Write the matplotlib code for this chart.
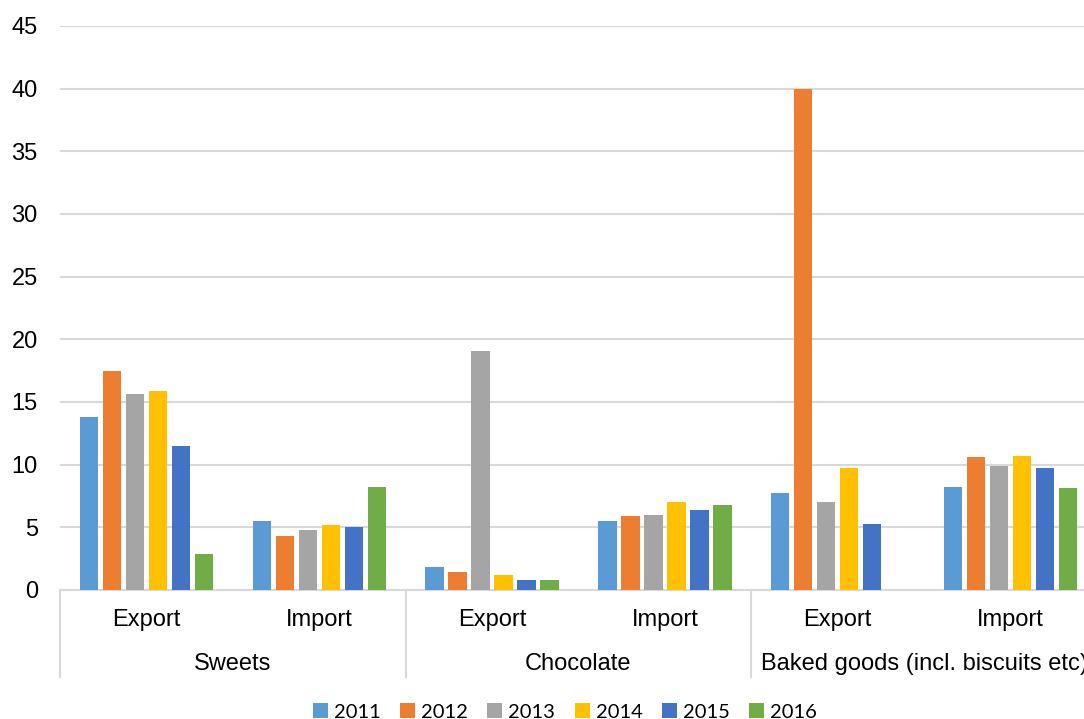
import numpy as np
import matplotlib
matplotlib.use('Agg')
import matplotlib.pyplot as plt
from matplotlib.lines import Line2D

years = ['2011', '2012', '2013', '2014', '2015', '2016']
colors = ['#5B9BD5', '#ED7D31', '#A5A5A5', '#FFC000', '#4472C4', '#70AD47']
products = ['Sweets', 'Chocolate', 'Baked goods (incl. biscuits etc)']
flows = ['Export', 'Import']

# values per year, order: Sweets Exp/Imp, Chocolate Exp/Imp, Baked Exp/Imp
v2011 = [13.8, 5.5, 1.8, 5.5, 7.7, 8.2]
v2012 = [17.5, 4.3, 1.4, 5.9, 40.0, 10.6]
v2013 = [15.6, 4.8, 19.1, 6.0, 7.0, 9.9]
v2014 = [15.9, 5.2, 1.2, 7.0, 9.7, 10.7]
v2015 = [11.5, 5.0, 0.8, 6.4, 5.3, 9.7]
v2016 = [2.9, 8.2, 0.8, 6.8, 0.0, 8.1]
series = [v2011, v2012, v2013, v2014, v2015, v2016]

plt.rcParams['font.family'] = ['Liberation Sans', 'DejaVu Sans']
grid_col = '#d9d9d9'
fs = 17

fig = plt.figure(figsize=(10.84, 7.19), dpi=100)
ax = fig.add_axes([60/1084, 129/719, 1037/1084, 564/719])

x = np.arange(6) + 0.5
step = 0.133
width = 0.106
for i, (yr, vals) in enumerate(zip(years, series)):
    ax.bar(x + (i - 2.5)*step, vals, width, color=colors[i], label=yr, linewidth=0, zorder=3)

ax.set_xlim(0, 6)
ax.set_ylim(0, 45)
ax.set_yticks(np.arange(0, 46, 5))
ax.tick_params(axis='y', length=0, labelsize=fs, pad=16)
ax.set_xticks([])
ax.yaxis.grid(True, color=grid_col, linewidth=1.5, zorder=0)
for s in ['top', 'right', 'left']:
    ax.spines[s].set_visible(False)
ax.spines['bottom'].set_color(grid_col)
ax.spines['bottom'].set_linewidth(1.5)

tr = ax.get_xaxis_transform()
# sub-category labels
for k in range(6):
    ax.text(k + 0.5, -0.054, flows[k % 2], transform=tr, ha='center', va='center', fontsize=fs)
# main category labels (last one runs past the right edge, as in the original)
for j, p in enumerate(products):
    ax.text(2*j + 1, -0.131, p, transform=tr, ha='center', va='center', fontsize=fs)
# separators
for b in [0, 2, 4, 6]:
    ax.add_line(Line2D([b, b], [0, -0.154], transform=tr, color=grid_col, linewidth=1.5, clip_on=False))

handles, labels = ax.get_legend_handles_labels()
fig.legend(handles, labels, loc='center', bbox_to_anchor=(565/1084, 1 - 712/719), ncol=6,
           frameon=False, prop={'family': 'Lato', 'size': 14.5}, handlelength=0.75, handleheight=0.75,
           handletextpad=0.3, columnspacing=0.95)

fig.savefig('out.png', dpi=100)
